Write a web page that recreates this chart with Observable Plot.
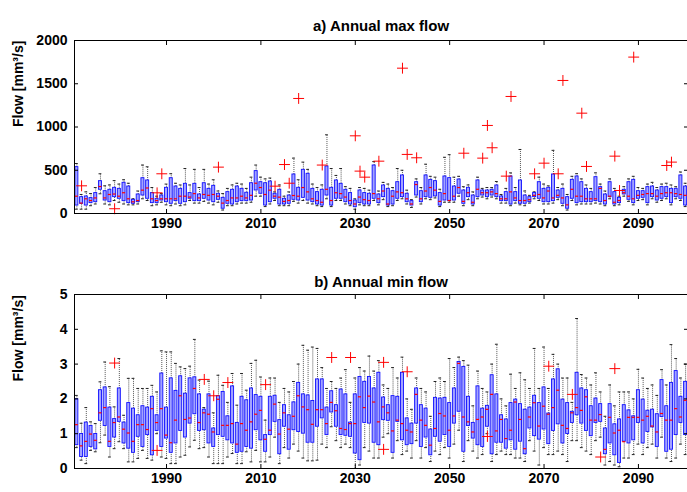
<!DOCTYPE html>
<html><head><meta charset="utf-8">
<script src="https://cdn.jsdelivr.net/npm/d3@7"></script>
<script src="https://cdn.jsdelivr.net/npm/@observablehq/plot@0.6"></script>
<style>
body{margin:0;background:#fff;}
#chart{width:687px;height:492px;overflow:hidden;}
#chart svg{display:block;}
</style></head><body><div id="chart"></div>
<script>
const years = d3.range(1971, 2101);
const xTicks = [1990, 2010, 2030, 2050, 2070, 2090];

// a) Annual max flow
const maxYTicks = [0, 500, 1000, 1500, 2000];
const maxQ1 = [92,112,92,120,131,274,150,131,189,170,143,120,112,131,208,170,120,120,150,131,
112,143,112,131,170,143,143,170,150,131,158,55,112,104,131,143,143,150,266,228,
92,131,170,104,104,112,158,150,181,150,131,104,92,208,92,170,170,131,104,73,
120,104,104,170,120,189,92,104,170,189,131,92,208,131,189,181,197,92,150,143,
150,228,112,189,104,189,208,189,208,189,143,143,104,143,112,112,131,189,170,131,
131,143,181,112,55,170,120,131,131,131,143,131,104,189,104,120,220,158,120,170,
181,120,189,150,170,189,120,189,170,92];
const maxQ3 = [536,189,197,178,236,374,258,274,297,285,355,312,158,220,408,382,236,170,208,297,
408,312,285,343,236,343,220,350,285,320,228,181,247,274,312,285,240,350,490,362,
350,370,228,274,170,208,451,297,505,459,285,247,274,544,297,382,343,274,236,150,
266,236,228,555,220,324,285,258,362,440,228,143,362,258,440,389,374,236,428,409,
312,393,266,297,208,382,266,266,274,324,197,247,428,247,382,208,189,236,362,285,
297,451,266,285,189,389,428,362,285,247,420,305,220,362,247,181,274,362,389,258,
258,305,312,266,305,305,285,285,440,312];
const maxMed = [200,120,170,150,180,312,180,220,225,200,240,170,135,150,270,295,170,150,170,170,
170,170,200,200,190,230,180,220,210,220,200,120,150,180,180,200,180,210,350,300,
220,270,200,189,140,150,208,200,300,250,170,150,130,280,150,240,230,190,150,110,
190,160,150,230,170,260,110,200,250,240,170,110,335,170,260,300,270,140,230,150,
200,300,140,240,130,280,240,240,250,230,170,170,250,180,150,150,160,210,220,180,
260,180,210,180,100,280,200,200,170,170,170,290,150,200,130,150,240,200,170,210,
220,230,230,200,230,240,240,230,220,210];
const maxHi = [578,220,250,230,300,459,320,330,380,340,390,350,170,260,560,540,300,200,230,340,
460,350,330,520,330,510,300,510,340,390,260,230,290,330,350,340,290,420,560,420,
400,410,250,330,200,250,640,390,594,510,340,300,330,910,520,440,520,310,290,170,
300,290,270,600,260,360,340,300,520,500,270,160,400,300,570,430,420,280,650,680,
420,430,310,330,250,420,290,300,300,370,220,290,470,300,740,260,210,250,420,340,
320,730,300,340,220,430,460,400,330,290,470,340,260,400,290,200,310,400,430,300,
290,340,360,300,340,350,330,310,480,350];
const maxLo = [50,50,50,90,110,228,110,100,150,130,110,100,100,110,170,150,90,100,130,100,
90,110,90,100,150,120,120,140,120,100,130,40,90,90,110,120,120,130,200,200,
80,110,150,90,90,90,140,120,150,120,110,90,80,170,80,150,150,110,90,50,
100,90,90,150,100,160,80,90,150,170,110,70,190,110,170,160,180,80,130,130,
130,200,90,160,90,170,190,170,190,170,120,120,90,120,100,90,120,170,150,110,
110,120,160,90,40,150,100,110,110,110,120,110,90,170,90,100,200,140,100,150,
160,100,170,130,150,170,100,170,150,80];
const maxOutYears = [1972,1979,1988,1989,2001,2013,2015,2016,2018,2023,2030,2031,2032,2035,2040,2041,2043,
2053,2057,2058,2059,2062,2063,2068,2070,2073,2074,2078,2079,2085,2086,2089,2096,2097];
const maxOutVals = [320,55,239,459,536,316,566,350,1330,560,898,490,420,605,1680,683,644,
697,640,1018,760,432,1353,459,582,459,1538,1160,544,663,266,1808,555,594];

// b) Annual min flow
const minYTicks = [0, 1, 2, 3, 4, 5];
const minQ1 = [0.67,0.33,0.33,0.62,0.55,1.37,1.22,0.62,0.89,1.34,0.72,0.57,0.45,0.91,0.62,0.96,0.38,1.08,0.62,0.86,
0.45,0.72,1.08,0.89,1.29,1.56,1.08,1.10,0.72,0.62,0.96,0.91,0.81,0.72,0.45,0.48,0.62,0.57,1.10,0.81,
0.48,0.96,1.34,0.41,1.20,0.54,1.10,1.05,1.00,0.74,0.74,1.20,1.44,0.96,1.61,1.20,0.96,0.94,0.91,0.43,
0.24,1.31,1.29,0.74,0.67,1.39,1.37,0.45,1.34,0.81,0.67,0.70,1.29,0.62,0.89,0.38,0.91,0.77,0.96,0.62,
1.29,1.63,0.48,1.22,0.86,0.67,0.62,1.20,0.41,0.74,0.74,0.57,0.81,0.54,0.77,0.41,1.15,0.93,0.83,1.12,
0.70,1.08,1.27,0.72,0.99,1.31,1.53,1.29,1.08,0.93,1.31,1.34,0.41,0.72,0.38,0.16,0.77,0.72,0.81,1.31,
0.72,1.05,1.18,0.62,1.48,0.48,0.54,0.96,1.31,0.96];
const minQ3 = [1.99,0.99,1.32,1.22,0.99,2.25,2.33,1.75,1.42,2.30,1.32,1.88,1.72,1.53,1.79,1.75,2.06,1.53,2.73,1.75,
2.59,2.23,2.65,2.15,2.59,2.62,2.13,1.69,2.13,1.15,2.08,2.20,1.50,2.36,1.31,2.06,1.96,2.30,2.11,2.06,
0.96,2.06,2.09,1.39,1.82,1.53,1.90,2.46,2.13,2.10,1.94,2.56,2.56,1.75,2.22,1.82,2.27,2.13,1.32,2.13,
2.63,2.49,2.63,2.30,2.75,2.04,1.82,2.08,2.06,2.75,1.44,1.29,2.30,1.82,1.72,1.12,2.03,2.01,2.03,1.88,
2.30,3.06,2.92,2.06,1.31,2.36,1.72,1.80,2.68,2.13,1.53,1.41,1.88,1.98,1.85,1.69,1.75,2.09,1.88,2.33,
1.58,2.56,2.85,1.98,1.88,1.63,2.75,2.30,2.25,1.79,2.01,1.85,1.15,1.85,1.27,1.41,1.82,1.67,1.50,2.25,
1.98,1.66,1.69,1.56,2.54,1.79,2.46,2.80,2.06,2.49];
const minMed = [1.26,0.65,0.78,0.99,0.81,1.60,1.75,0.78,1.32,1.48,1.13,1.02,0.78,1.26,1.26,1.12,1.72,1.32,1.72,0.96,
0.74,1.39,2.09,1.41,1.45,2.30,1.32,1.60,1.56,1.05,1.99,1.24,1.24,1.29,0.70,1.29,1.10,1.34,1.56,1.67,
0.84,1.10,1.85,0.99,1.60,1.13,1.50,2.09,1.77,1.69,1.27,1.69,1.69,1.29,1.90,1.66,1.15,1.12,1.29,1.29,
2.06,1.75,2.08,1.91,1.34,1.77,1.60,1.08,1.39,1.29,1.10,1.05,2.13,1.39,1.24,0.67,1.15,1.58,1.51,1.10,
1.51,3.02,1.48,1.34,1.05,1.41,1.48,1.70,2.13,1.08,1.41,0.86,1.10,1.91,1.41,0.57,1.48,1.89,1.22,1.79,
1.56,1.75,2.25,1.24,1.15,1.60,1.75,1.67,2.06,1.39,1.39,1.55,0.55,1.47,1.02,1.10,0.77,1.47,1.47,1.47,
1.39,1.50,1.22,1.05,1.58,1.39,1.39,1.72,1.48,1.96];
const minHi = [2.10,1.30,1.75,1.34,1.29,2.49,3.06,2.35,1.77,3.16,1.53,2.59,2.59,2.30,2.30,2.30,2.39,2.20,3.38,3.35,
3.35,3.02,2.92,2.87,2.94,3.71,2.54,1.75,2.51,1.60,2.68,2.39,1.90,2.73,1.82,2.73,2.25,3.02,3.11,2.63,
1.39,2.60,2.60,1.90,2.30,2.20,2.50,3.00,3.54,3.40,3.49,3.45,2.90,2.30,2.50,2.30,2.60,2.84,1.90,2.60,
2.90,2.80,3.23,2.80,3.10,2.40,2.30,2.90,2.60,3.20,2.00,1.70,2.60,2.30,2.20,1.50,2.50,2.60,2.50,3.16,
2.90,3.20,3.10,2.97,1.80,2.80,2.30,2.20,3.00,3.57,2.00,1.80,2.71,2.30,2.75,2.55,2.30,3.45,2.30,3.49,
2.30,3.28,3.00,2.60,2.60,1.90,4.31,2.70,2.60,2.40,2.75,2.20,1.50,2.40,1.80,2.20,2.20,2.20,2.00,2.85,
2.60,2.30,2.40,2.10,2.84,2.40,3.56,3.16,2.60,3.00];
const minLo = [0.60,0.24,0.14,0.52,0.48,0.74,0.96,0.33,0.57,0.77,0.57,0.19,0.19,0.29,0.52,0.29,0.24,1.00,0.33,0.29,
0.14,0.14,0.33,0.38,0.62,0.81,0.57,0.60,0.33,0.14,0.14,0.14,0.33,0.43,0.14,0.14,0.48,0.19,0.52,0.19,
0.19,0.33,0.90,0.14,0.60,0.30,0.70,0.50,0.30,0.22,0.22,0.24,0.70,0.60,1.20,0.80,0.60,0.70,0.60,0.00,
0.10,0.60,0.50,0.30,0.30,0.90,1.00,0.30,0.80,0.40,0.50,0.30,0.80,0.30,0.60,0.20,0.50,0.40,0.60,0.30,
0.70,1.10,0.20,0.80,0.50,0.30,0.40,1.00,0.20,0.40,0.50,0.40,0.40,0.30,0.30,0.20,0.80,0.50,0.10,0.60,
0.40,0.40,0.50,0.40,0.20,0.80,0.80,0.60,0.50,0.40,0.80,0.90,0.10,0.20,0.10,0.05,0.30,0.30,0.40,0.70,
0.40,0.60,0.70,0.30,0.90,0.30,0.20,0.30,0.70,0.40];
const minOutYears = [1979,1988,1998,2000,2003,2011,2025,2029,2036,2036,2041,2058,2071,2076,2082,2085];
const minOutVals = [3.03,0.52,2.56,2.09,2.47,2.41,3.19,3.19,3.05,0.55,2.78,0.92,2.94,2.13,0.33,2.87];

const FONT = "'Liberation Sans', Arial, Helvetica, sans-serif";

function panel(o) {
  const rows = years.map((year, i) => ({year, q1: o.q1[i], q3: o.q3[i], med: o.med[i], hi: o.hi[i], lo: o.lo[i]}));
  const outs = o.outYears.map((year, i) => ({year, v: o.outVals[i]}));
  const hw = 0.32, cw = 0.3;
  const whisk = {stroke: "#555", strokeWidth: 1, strokeDasharray: "1,1"};
  return Plot.plot({
    width: 687, height: 246,
    marginLeft: 74, marginRight: 0, marginTop: o.marginTop, marginBottom: o.marginBottom,
    style: {fontFamily: FONT, fontSize: "14px", fontWeight: "bold", color: "black", background: "white"},
    x: {domain: [1970.5, 2100.4]},
    y: {domain: o.yDomain},
    marks: [
      Plot.ruleX(rows, {x: "year", y1: "q3", y2: "hi", ...whisk}),
      Plot.ruleX(rows, {x: "year", y1: "lo", y2: "q1", ...whisk}),
      Plot.ruleY(rows, {y: "hi", x1: d => d.year - cw, x2: d => d.year + cw, stroke: "#222", strokeWidth: 1}),
      Plot.ruleY(rows, {y: "lo", x1: d => d.year - cw, x2: d => d.year + cw, stroke: "#222", strokeWidth: 1}),
      Plot.rect(rows, {x1: d => d.year - hw, x2: d => d.year + hw, y1: "q1", y2: "q3", fill: "#a3a3ff", stroke: "#1010ff", strokeWidth: 0.9}),
      Plot.ruleY(rows, {y: "med", x1: d => d.year - hw, x2: d => d.year + hw, stroke: "#ff0000", strokeWidth: 1.2}),
      Plot.dot(outs, {x: "year", y: "v", symbol: "plus", r: 3.6, stroke: "#ff0000", strokeWidth: 1}),
      Plot.frame({stroke: "black", strokeWidth: 1}),
      Plot.axisX({ticks: xTicks, tickSize: 0, tickPadding: 5, tickFormat: d => String(d), label: null, fontWeight: "bold"}),
      Plot.axisX({ticks: xTicks, tickSize: -4, tickFormat: () => "", label: null}),
      Plot.axisX({anchor: "top", ticks: xTicks, tickSize: -4, tickFormat: () => "", label: null}),
      Plot.axisY({ticks: o.yTicks, tickSize: 0, tickPadding: 7, tickFormat: d => String(d), label: null, fontWeight: "bold"}),
      Plot.axisY({ticks: o.yTicks, tickSize: -4, tickFormat: () => "", label: null}),
      Plot.axisY({anchor: "right", ticks: o.yTicks, tickSize: -4, tickFormat: () => "", label: null}),
      Plot.text([o.title], {text: d => d, frameAnchor: "top", dy: o.titleDy, fontSize: 15, fontWeight: "bold"}),
      Plot.text(["Flow [mm³/s]"], {text: d => d, frameAnchor: "left", dx: -56, rotate: -90, fontSize: 14, fontWeight: "bold"})
    ]
  });
}

const chart = document.getElementById("chart");
chart.append(panel({title: "a) Annual max flow", q1: maxQ1, q3: maxQ3, med: maxMed, hi: maxHi, lo: maxLo,
  outYears: maxOutYears, outVals: maxOutVals, yDomain: [0, 2000], yTicks: maxYTicks,
  marginTop: 40, marginBottom: 33, titleDy: -20}));
chart.append(panel({title: "b) Annual min flow", q1: minQ1, q3: minQ3, med: minMed, hi: minHi, lo: minLo,
  outYears: minOutYears, outVals: minOutVals, yDomain: [0, 5], yTicks: minYTicks,
  marginTop: 48, marginBottom: 24, titleDy: -18}));
</script></body></html>
